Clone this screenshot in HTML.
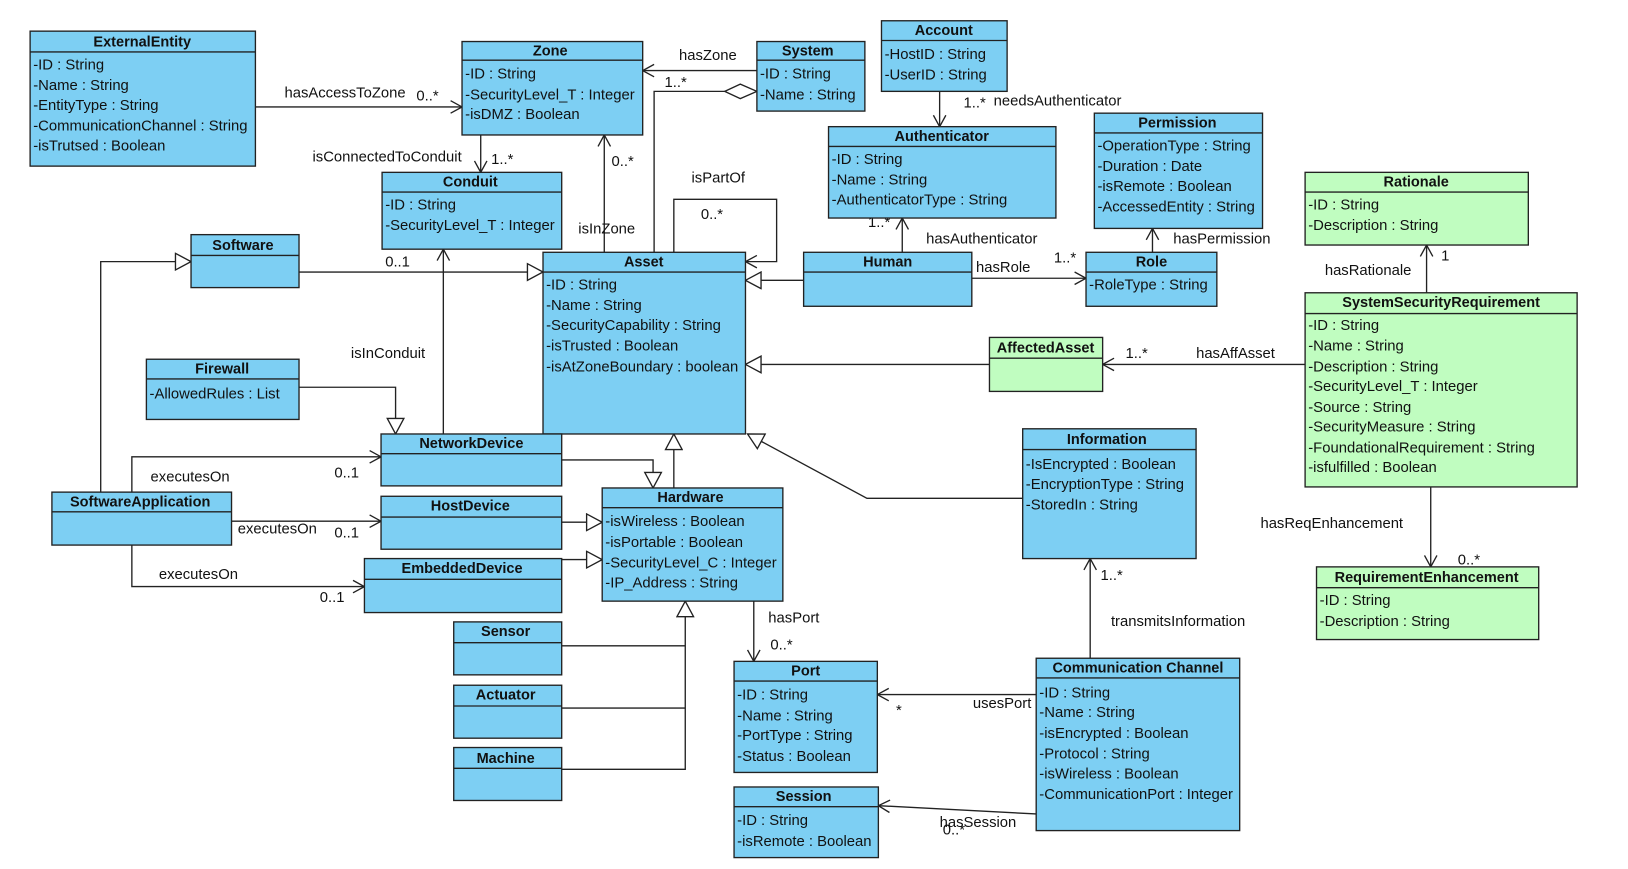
<!DOCTYPE html>
<html><head><meta charset="utf-8"><style>
html,body{margin:0;padding:0;background:#fff;}
svg{display:block;}
text{font-family:"Liberation Sans",Arial,sans-serif;font-size:14.3px;fill:#111;}
.h{font-weight:bold;text-anchor:middle;font-size:14px;}
.b{fill:#7dcff3;stroke:#222;stroke-width:1.3;}
.g{fill:#c0fdc0;stroke:#222;stroke-width:1.3;}
.l{stroke:#222;stroke-width:1.3;fill:none;}
.t{fill:#fff;stroke:#222;stroke-width:1.3;}
</style></head><body>
<svg width="1628" height="869" viewBox="0 0 1568 837" preserveAspectRatio="none" xmlns="http://www.w3.org/2000/svg">
<defs>
<marker id="a" markerWidth="14" markerHeight="14" refX="12" refY="7" orient="auto" markerUnits="userSpaceOnUse"><path d="M1,1 L12,7 L1,13" fill="none" stroke="#222" stroke-width="1.3"/></marker>
<marker id="tr" markerWidth="18" markerHeight="18" refX="16" refY="9" orient="auto" markerUnits="userSpaceOnUse"><path d="M1,1 L16,9 L1,17 Z" fill="#fff" stroke="#222" stroke-width="1.3"/></marker>
</defs>
<g dominant-baseline="middle">
<!-- connectors -->
<path class="l" d="M246,103 H445" marker-end="url(#a)"/>
<path class="l" d="M729,68 H619" marker-end="url(#a)"/>
<path class="l" d="M630,243 V88 H698"/>
<path d="M698,88 L713,81 L729,88 L713,95 Z" fill="#fff" stroke="#222" stroke-width="1.3"/>
<path class="l" d="M463,130 V166" marker-end="url(#a)"/>
<path class="l" d="M582,243 V130" marker-end="url(#a)"/>
<path class="l" d="M649,243 V192 H748 V252 H718" marker-end="url(#a)"/>
<path class="l" d="M905,88 V122" marker-end="url(#a)"/>
<path class="l" d="M869,243 V210" marker-end="url(#a)"/>
<path class="l" d="M1110,243 V220" marker-end="url(#a)"/>
<path class="l" d="M936,268 H1046" marker-end="url(#a)"/>
<path class="l" d="M774,270 H718" marker-end="url(#tr)"/>
<path class="l" d="M288,262 H523" marker-end="url(#tr)"/>
<path class="l" d="M97,474 V252 H184" marker-end="url(#tr)"/>
<path class="l" d="M953,351 H718" marker-end="url(#tr)"/>
<path class="l" d="M1257,351 H1062" marker-end="url(#a)"/>
<path class="l" d="M1374,282 V236" marker-end="url(#a)"/>
<path class="l" d="M1378,469 V546" marker-end="url(#a)"/>
<path class="l" d="M288,373 H381 V418" marker-end="url(#tr)"/>
<path class="l" d="M427,418 V240" marker-end="url(#a)"/>
<path class="l" d="M541,443 H629 V470" marker-end="url(#tr)"/>
<path class="l" d="M649,470 V418" marker-end="url(#tr)"/>
<path class="l" d="M985,480 H835 L720,418" marker-end="url(#tr)"/>
<path class="l" d="M127,474 V440 H367" marker-end="url(#a)"/>
<path class="l" d="M223,502 H367" marker-end="url(#a)"/>
<path class="l" d="M127,525 V565 H351" marker-end="url(#a)"/>
<path class="l" d="M541,503 H580" marker-end="url(#tr)"/>
<path class="l" d="M541,539 H580" marker-end="url(#tr)"/>
<path class="l" d="M541,622 H660 M541,682 H660 M541,741 H660 V579" marker-end="url(#tr)"/>
<path class="l" d="M726,579 V637" marker-end="url(#a)"/>
<path class="l" d="M1050,634 V538" marker-end="url(#a)"/>
<path class="l" d="M998,669 H845" marker-end="url(#a)"/>
<path class="l" d="M998,784 L846,776" marker-end="url(#a)"/>
<!-- labels -->
<text x="274" y="90">hasAccessToZone</text><text x="401" y="93">0..*</text>
<text x="654" y="54">hasZone</text><text x="640" y="80">1..*</text>
<text x="301" y="152">isConnectedToConduit</text><text x="473" y="154">1..*</text>
<text x="589" y="156">0..*</text><text x="557" y="221">isInZone</text>
<text x="666" y="172">isPartOf</text><text x="675" y="207">0..*</text>
<text x="928" y="100">1..*</text><text x="957" y="98">needsAuthenticator</text>
<text x="836" y="215">1..*</text><text x="892" y="231">hasAuthenticator</text>
<text x="1130" y="231">hasPermission</text>
<text x="940" y="258">hasRole</text><text x="1015" y="249">1..*</text>
<text x="371" y="253">0..1</text>
<text x="1084" y="341">1..*</text><text x="1152" y="341">hasAffAsset</text>
<text x="1276" y="261">hasRationale</text><text x="1388" y="247">1</text>
<text x="1214" y="505">hasReqEnhancement</text><text x="1404" y="540">0..*</text>
<text x="338" y="341">isInConduit</text>
<text x="145" y="460">executesOn</text><text x="322" y="456">0..1</text>
<text x="229" y="510">executesOn</text><text x="322" y="514">0..1</text>
<text x="153" y="554">executesOn</text><text x="308" y="576">0..1</text>
<text x="740" y="596">hasPort</text><text x="742" y="622">0..*</text>
<text x="1060" y="555">1..*</text><text x="1070" y="599">transmitsInformation</text>
<text x="937" y="678">usesPort</text><text x="863" y="685">*</text>
<text x="908" y="800">0..*</text><text x="905" y="793">hasSession</text>

<!-- boxes -->
<g><rect class="b" x="29" y="30" width="217" height="130"/><line class="l" x1="29" y1="50" x2="246" y2="50"/><text class="h" x="137" y="41">ExternalEntity</text>
<text x="32" y="63">-ID : String</text><text x="32" y="83">-Name : String</text><text x="32" y="102">-EntityType : String</text><text x="32" y="122">-CommunicationChannel : String</text><text x="32" y="141">-isTrutsed : Boolean</text></g>

<g><rect class="b" x="445" y="40" width="174" height="90"/><line class="l" x1="445" y1="58" x2="619" y2="58"/><text class="h" x="530" y="50">Zone</text>
<text x="448" y="72">-ID : String</text><text x="448" y="92">-SecurityLevel_T : Integer</text><text x="448" y="111">-isDMZ : Boolean</text></g>

<g><rect class="b" x="729" y="40" width="104" height="67"/><line class="l" x1="729" y1="58" x2="833" y2="58"/><text class="h" x="778" y="50">System</text>
<text x="732" y="72">-ID : String</text><text x="732" y="92">-Name : String</text></g>

<g><rect class="b" x="849" y="20" width="121" height="68"/><line class="l" x1="849" y1="39" x2="970" y2="39"/><text class="h" x="909" y="30">Account</text>
<text x="852" y="53">-HostID : String</text><text x="852" y="73">-UserID : String</text></g>

<g><rect class="b" x="798" y="122" width="219" height="88"/><line class="l" x1="798" y1="141" x2="1017" y2="141"/><text class="h" x="907" y="132">Authenticator</text>
<text x="801" y="154">-ID : String</text><text x="801" y="174">-Name : String</text><text x="801" y="193">-AuthenticatorType : String</text></g>

<g><rect class="b" x="1054" y="109" width="162" height="111"/><line class="l" x1="1054" y1="128" x2="1216" y2="128"/><text class="h" x="1134" y="119">Permission</text>
<text x="1057" y="141">-OperationType : String</text><text x="1057" y="161">-Duration : Date</text><text x="1057" y="180">-isRemote : Boolean</text><text x="1057" y="200">-AccessedEntity : String</text></g>

<g><rect class="g" x="1257" y="166" width="215" height="70"/><line class="l" x1="1257" y1="185" x2="1472" y2="185"/><text class="h" x="1364" y="176">Rationale</text>
<text x="1260" y="198">-ID : String</text><text x="1260" y="218">-Description : String</text></g>

<g><rect class="b" x="368" y="166" width="173" height="74"/><line class="l" x1="368" y1="185" x2="541" y2="185"/><text class="h" x="453" y="176">Conduit</text>
<text x="371" y="198">-ID : String</text><text x="371" y="218">-SecurityLevel_T : Integer</text></g>

<g><rect class="b" x="184" y="226" width="104" height="51"/><line class="l" x1="184" y1="246" x2="288" y2="246"/><text class="h" x="234" y="237">Software</text></g>

<g><rect class="b" x="523" y="243" width="195" height="175"/><line class="l" x1="523" y1="262" x2="718" y2="262"/><text class="h" x="620" y="253">Asset</text>
<text x="526" y="275">-ID : String</text><text x="526" y="295">-Name : String</text><text x="526" y="314">-SecurityCapability : String</text><text x="526" y="334">-isTrusted : Boolean</text><text x="526" y="354">-isAtZoneBoundary : boolean</text></g>

<g><rect class="b" x="774" y="243" width="162" height="52"/><line class="l" x1="774" y1="262" x2="936" y2="262"/><text class="h" x="855" y="253">Human</text></g>

<g><rect class="b" x="1046" y="243" width="126" height="52"/><line class="l" x1="1046" y1="262" x2="1172" y2="262"/><text class="h" x="1109" y="253">Role</text>
<text x="1049" y="275">-RoleType : String</text></g>

<g><rect class="g" x="1257" y="282" width="262" height="187"/><line class="l" x1="1257" y1="302" x2="1519" y2="302"/><text class="h" x="1388" y="292">SystemSecurityRequirement</text>
<text x="1260" y="314">-ID : String</text><text x="1260" y="334">-Name : String</text><text x="1260" y="354">-Description : String</text><text x="1260" y="373">-SecurityLevel_T : Integer</text><text x="1260" y="393">-Source : String</text><text x="1260" y="412">-SecurityMeasure : String</text><text x="1260" y="432">-FoundationalRequirement : String</text><text x="1260" y="451">-isfulfilled : Boolean</text></g>

<g><rect class="b" x="141" y="346" width="147" height="58"/><line class="l" x1="141" y1="365" x2="288" y2="365"/><text class="h" x="214" y="356">Firewall</text>
<text x="144" y="380">-AllowedRules : List</text></g>

<g><rect class="g" x="953" y="325" width="109" height="52"/><line class="l" x1="953" y1="345" x2="1062" y2="345"/><text class="h" x="1007" y="336">AffectedAsset</text></g>

<g><rect class="b" x="367" y="418" width="174" height="50"/><line class="l" x1="367" y1="437" x2="541" y2="437"/><text class="h" x="454" y="428">NetworkDevice</text></g>

<g><rect class="b" x="985" y="413" width="167" height="125"/><line class="l" x1="985" y1="433" x2="1152" y2="433"/><text class="h" x="1066" y="424">Information</text>
<text x="988" y="448">-IsEncrypted : Boolean</text><text x="988" y="467">-EncryptionType : String</text><text x="988" y="487">-StoredIn : String</text></g>

<g><rect class="b" x="50" y="474" width="173" height="51"/><line class="l" x1="50" y1="493" x2="223" y2="493"/><text class="h" x="135" y="484">SoftwareApplication</text></g>

<g><rect class="b" x="580" y="470" width="174" height="109"/><line class="l" x1="580" y1="489" x2="754" y2="489"/><text class="h" x="665" y="480">Hardware</text>
<text x="583" y="503">-isWireless : Boolean</text><text x="583" y="523">-isPortable : Boolean</text><text x="583" y="543">-SecurityLevel_C : Integer</text><text x="583" y="562">-IP_Address : String</text></g>

<g><rect class="b" x="367" y="478" width="174" height="51"/><line class="l" x1="367" y1="498" x2="541" y2="498"/><text class="h" x="453" y="488">HostDevice</text></g>

<g><rect class="b" x="351" y="538" width="190" height="52"/><line class="l" x1="351" y1="558" x2="541" y2="558"/><text class="h" x="445" y="548">EmbeddedDevice</text></g>

<g><rect class="g" x="1268" y="546" width="214" height="70"/><line class="l" x1="1268" y1="566" x2="1482" y2="566"/><text class="h" x="1374" y="557">RequirementEnhancement</text>
<text x="1271" y="579">-ID : String</text><text x="1271" y="599">-Description : String</text></g>

<g><rect class="b" x="437" y="599" width="104" height="51"/><line class="l" x1="437" y1="619" x2="541" y2="619"/><text class="h" x="487" y="609">Sensor</text></g>
<g><rect class="b" x="437" y="660" width="104" height="51"/><line class="l" x1="437" y1="680" x2="541" y2="680"/><text class="h" x="487" y="670">Actuator</text></g>
<g><rect class="b" x="437" y="720" width="104" height="51"/><line class="l" x1="437" y1="740" x2="541" y2="740"/><text class="h" x="487" y="731">Machine</text></g>

<g><rect class="b" x="707" y="637" width="138" height="107"/><line class="l" x1="707" y1="656" x2="845" y2="656"/><text class="h" x="776" y="647">Port</text>
<text x="710" y="670">-ID : String</text><text x="710" y="690">-Name : String</text><text x="710" y="709">-PortType : String</text><text x="710" y="729">-Status : Boolean</text></g>

<g><rect class="b" x="998" y="634" width="196" height="166"/><line class="l" x1="998" y1="653" x2="1194" y2="653"/><text class="h" x="1096" y="644">Communication Channel</text>
<text x="1001" y="668">-ID : String</text><text x="1001" y="687">-Name : String</text><text x="1001" y="707">-isEncrypted : Boolean</text><text x="1001" y="727">-Protocol : String</text><text x="1001" y="746">-isWireless : Boolean</text><text x="1001" y="766">-CommunicationPort : Integer</text></g>

<g><rect class="b" x="707" y="758" width="139" height="68"/><line class="l" x1="707" y1="777" x2="846" y2="777"/><text class="h" x="774" y="768">Session</text>
<text x="710" y="791">-ID : String</text><text x="710" y="811">-isRemote : Boolean</text></g>
</g>
</svg>
</body></html>
